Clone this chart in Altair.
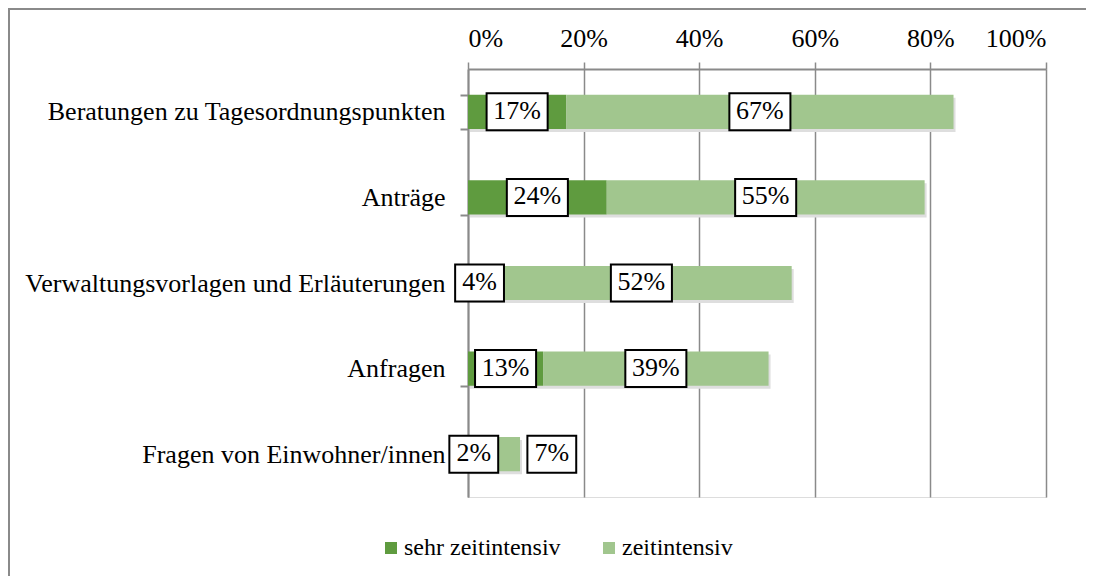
import altair as alt
import pandas as pd

categories = [
    "Beratungen zu Tagesordnungspunkten",
    "Anträge",
    "Verwaltungsvorlagen und Erläuterungen",
    "Anfragen",
    "Fragen von Einwohner/innen",
]
series = ["sehr zeitintensiv", "zeitintensiv"]
sehr_zeitintensiv = [17, 24, 4, 13, 2]
zeitintensiv = [67, 55, 52, 39, 7]
x_ticks = [0, 20, 40, 60, 80, 100]

# label placement tweak (percent units) where the chart moved a label aside
label_nudge = {("Fragen von Einwohner/innen", "zeitintensiv"): 9}

rows = []
for cat, a, b in zip(categories, sehr_zeitintensiv, zeitintensiv):
    start = 0
    for s, v in zip(series, [a, b]):
        end = start + v
        rows.append({
            "category": cat,
            "series": s,
            "order": series.index(s),
            "start": start,
            "end": end,
            "mid": (start + end) / 2 + label_nudge.get((cat, s), 0),
            "label": f"{v}%",
        })
        start = end
df = pd.DataFrame(rows)

FONT = "Liberation Serif"
GUIDE_FONT = "'Liberation Serif', 'Times New Roman', serif"
GRAY = "#8a8a8a"
W, H = 578, 428

y_scale = alt.Scale(paddingInner=0.6, paddingOuter=0.3)
x_scale = alt.Scale(domain=[0, 100], nice=False)

y_enc = alt.Y(
    "category:N",
    sort=categories,
    scale=y_scale,
    axis=alt.Axis(
        title=None, orient="left", tickBand="extent", grid=False,
        domainColor=GRAY, domainWidth=2, tickColor=GRAY, tickWidth=2, tickSize=8,
        labelFont=GUIDE_FONT, labelFontSize=26, labelColor="black", labelPadding=15,
        labelLimit=600,
    ),
)

x_axis = alt.Axis(
    title=None, orient="top", values=x_ticks, labelExpr="datum.value + '%'",
    grid=True, gridColor=GRAY, gridWidth=1.5, domainColor=GRAY, domainWidth=2,
    tickColor=GRAY, tickWidth=1.5, tickSize=7, labelFont=GUIDE_FONT, labelFontSize=26,
    labelColor="black", labelPadding=11,
)

shadow = alt.Chart(df).transform_filter("datum.order == 1").transform_calculate(
    base="0"
).mark_bar(
    color="#dedede", xOffset=2, x2Offset=2, yOffset=3, y2Offset=3,
).encode(
    x=alt.X("base:Q", scale=x_scale, axis=x_axis),
    x2=alt.X2("end:Q"),
    y=y_enc,
)

bars = alt.Chart(df).mark_bar().encode(
    x=alt.X("start:Q", scale=x_scale, axis=x_axis),
    x2="end:Q",
    y=y_enc,
    color=alt.Color(
        "series:N",
        scale=alt.Scale(domain=series, range=["#5f9b3f", "#a1c68e"]),
        legend=alt.Legend(
            title=None, orient="none", direction="horizontal", legendX=-89, legendY=467,
            symbolType="square", symbolSize=144, symbolStrokeWidth=0,
            labelFont=GUIDE_FONT, labelFontSize=24, labelColor="black", labelOffset=1,
            labelLimit=400, columnPadding=36, padding=0,
        ),
    ),
    order=alt.Order("order:Q"),
)

wide = "M-1.65,-1L1.65,-1L1.65,1L-1.65,1Z"
narrow = "M-1.32,-1L1.32,-1L1.32,1L-1.32,1Z"

boxes = alt.Chart(df).mark_point(
    filled=True, fill="white", stroke="black", strokeWidth=2, size=1369, opacity=1,
).encode(
    x=alt.X("mid:Q", scale=x_scale, axis=x_axis),
    y=y_enc,
    shape=alt.condition("length(datum.label) < 3", alt.value(narrow), alt.value(wide)),
)

texts = alt.Chart(df).mark_text(
    font=FONT, fontSize=26, color="black", baseline="middle", align="center", dy=-1,
).encode(
    x=alt.X("mid:Q", scale=x_scale, axis=x_axis),
    y=y_enc,
    text="label:N",
)

frame_top = alt.Chart(alt.Data(values=[{"k": 0}])).mark_rule(
    stroke=GRAY, strokeWidth=2,
).encode(x=alt.value(-459), x2=alt.value(W + 60), y=alt.value(-60))

frame_left = alt.Chart(alt.Data(values=[{"k": 0}])).mark_rule(
    stroke=GRAY, strokeWidth=2,
).encode(x=alt.value(-459), y=alt.value(-61), y2=alt.value(H + 120))

chart = alt.layer(frame_top, frame_left, shadow, bars, boxes, texts).properties(
    width=W, height=H,
    autosize=alt.AutoSizeParams(type="none"),
    padding={"left": 460, "top": 61, "right": 40, "bottom": 79},
).configure_view(stroke=None).configure(
    background="white", font=FONT
).configure_axis(labelFont=GUIDE_FONT).configure_legend(labelFont=GUIDE_FONT)

chart.save("out.html", embed_options={"renderer": "svg", "actions": False})
